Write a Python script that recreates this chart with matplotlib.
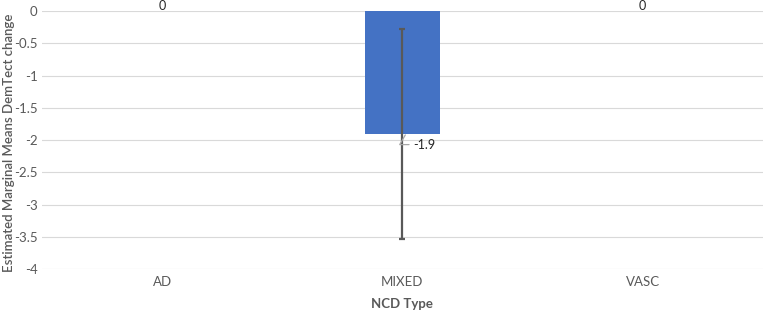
import matplotlib.pyplot as plt
import numpy as np

plt.rcParams['font.family'] = ['Lato', 'DejaVu Sans']

categories = ['AD', 'MIXED', 'VASC']
means = [0, -1.9, 0]
err_upper = [None, -0.28, None]
err_lower = [None, -3.53, None]
yticks = [0, -0.5, -1, -1.5, -2, -2.5, -3, -3.5, -4]

fig = plt.figure(figsize=(7.68, 3.12), dpi=100)
ax = fig.add_axes([0.055, 0.137, 0.938, 0.828])

x = np.arange(len(categories))
ax.bar(x, means, width=0.31, color='#4472C4', zorder=2)

# error bar only for MIXED
for i in range(len(categories)):
    if err_upper[i] is None:
        continue
    yerr = [[means[i] - err_lower[i]], [err_upper[i] - means[i]]]
    ax.errorbar(x[i], means[i], yerr=yerr, fmt='none', ecolor='#595959',
                elinewidth=1.6, capsize=2.5, capthick=1.6, zorder=3)

# data labels
for i, v in enumerate(means):
    if v == 0:
        ax.annotate(f'{v:g}', (x[i], v), xytext=(0, 3.5), textcoords='offset points',
                    ha='center', va='center', fontsize=9, color='#262626',
                    annotation_clip=False)
    else:
        ax.annotate(f'{v:g}', (x[i] + 0.012, v - 0.02), xytext=(x[i] + 0.045, v - 0.17),
                    ha='left', va='center', fontsize=9, color='#262626', zorder=4,
                    arrowprops=dict(arrowstyle='-', color='#A6A6A6', lw=0.9,
                                    shrinkA=1, shrinkB=0,
                                    connectionstyle='angle,angleA=0,angleB=60,rad=0'))

ax.set_xlim(-0.5, 2.5)
ax.set_ylim(-4, 0)
ax.set_yticks(yticks)
ax.set_yticklabels([f'{t:g}' for t in yticks])
ax.set_xticks(x)
ax.set_xticklabels(categories)
ax.tick_params(length=0, labelsize=9.5, colors='#595959')
ax.tick_params(axis='x', pad=5)
ax.tick_params(axis='y', pad=3.5)
ax.grid(axis='y', color='#D9D9D9', linewidth=0.8, zorder=0)
ax.set_axisbelow(True)
for s in ax.spines.values():
    s.set_visible(False)

ax.set_xlabel('NCD Type', fontsize=9.5, fontweight='bold', color='#595959')
ax.xaxis.set_label_coords(0.5, -0.11)
ax.set_ylabel('Estimated Marginal Means DemTect change', fontsize=9.5,
              fontweight='semibold', color='#595959', va='center')
ax.yaxis.set_label_coords(-0.046, 0.49)

fig.savefig('out.png', dpi=100)
